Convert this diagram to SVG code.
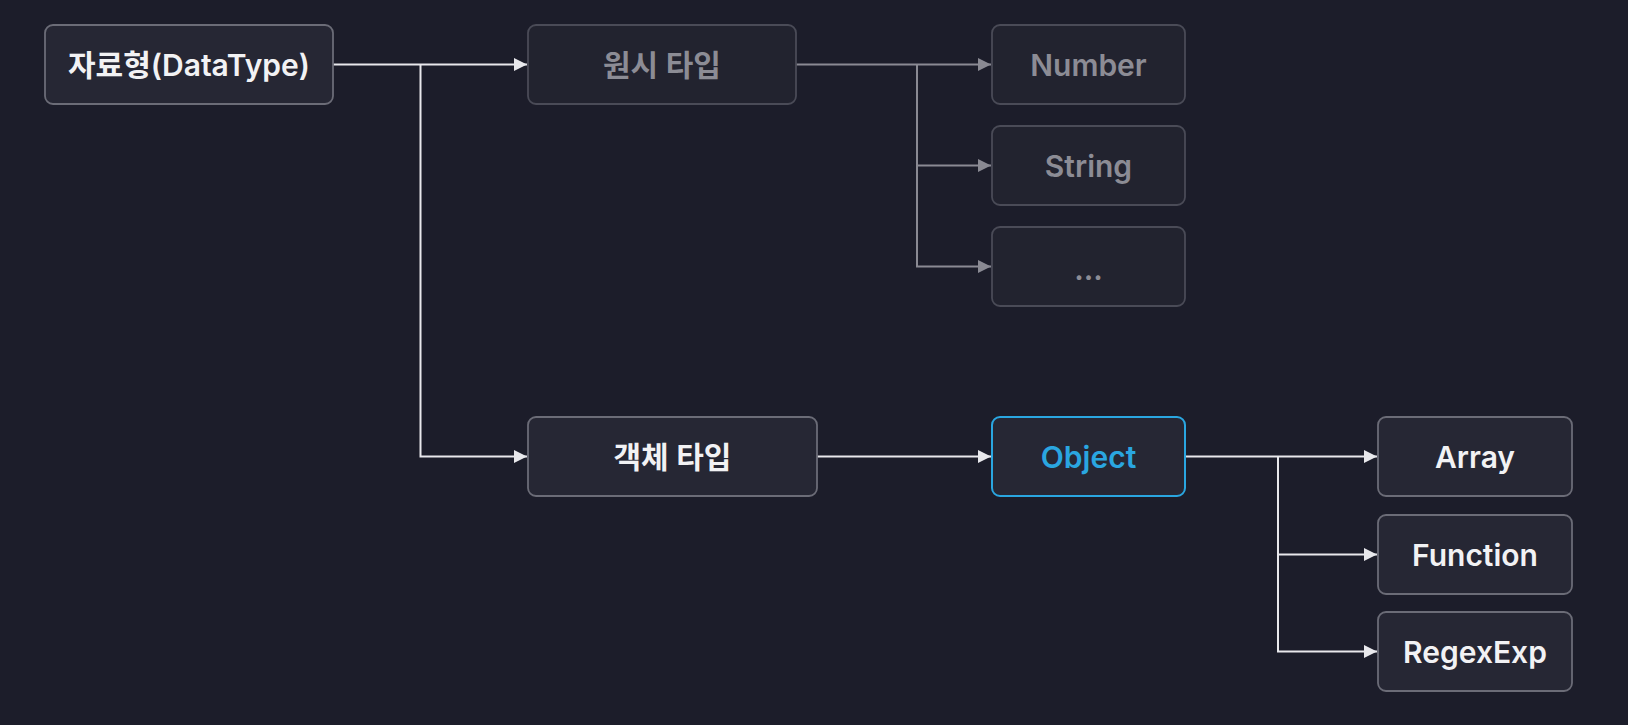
<svg xmlns="http://www.w3.org/2000/svg" width="1628" height="725" viewBox="0 0 1628 725">
<style>
.bg{fill:#1c1d2a}
.node rect{fill:#262734;stroke:#6b6c77;stroke-width:1.8}
.node.dim rect{fill:#22232f;stroke:#4a4b57}
.node.hl rect{stroke:#2aa6e0;stroke-width:2}
.node text{font-family:Inter,"Noto Sans CJK KR",sans-serif;font-size:30px;font-weight:600;fill:#f2f2f4;text-anchor:middle;dominant-baseline:central}
.node.dim text{fill:#8c8c95}
.node.hl text{fill:#2aa6e0}
.c{fill:none;stroke:#e8e8ec;stroke-width:2}
.c.dim{stroke:#8a8a93}
</style>
<defs>
<marker id="a" viewBox="0 0 10 10" refX="10" refY="5" markerWidth="13" markerHeight="13" markerUnits="userSpaceOnUse" orient="auto"><path d="M0,0L10,5L0,10z" fill="#e8e8ec"/></marker>
<marker id="ad" viewBox="0 0 10 10" refX="10" refY="5" markerWidth="13" markerHeight="13" markerUnits="userSpaceOnUse" orient="auto"><path d="M0,0L10,5L0,10z" fill="#8a8a93"/></marker>
</defs>
<rect class="bg" width="1628" height="725"/>
<g id="connectors">
<path class="c" d="M333,64.5H527" marker-end="url(#a)"/>
<path class="c" d="M420.5,64.5V456.5H527" marker-end="url(#a)"/>
<path class="c dim" d="M796,64.5H991" marker-end="url(#ad)"/>
<path class="c dim" d="M917,64.5V165.5H991" marker-end="url(#ad)"/>
<path class="c dim" d="M917,165.5V266.5H991" marker-end="url(#ad)"/>
<path class="c" d="M817,456.5H991" marker-end="url(#a)"/>
<path class="c" d="M1185,456.5H1377" marker-end="url(#a)"/>
<path class="c" d="M1278,456.5V554.5H1377" marker-end="url(#a)"/>
<path class="c" d="M1278,554.5V651.5H1377" marker-end="url(#a)"/>
</g>
<g id="n-datatype" class="node"><rect x="45" y="25" width="288" height="79" rx="8"/><text x="189" y="64.5">자료형(DataType)</text></g>
<g id="n-primitive" class="node dim"><rect x="528" y="25" width="268" height="79" rx="8"/><text x="662" y="64.5">원시 타입</text></g>
<g id="n-number" class="node dim"><rect x="992" y="25" width="193" height="79" rx="8"/><text x="1088.5" y="64.5">Number</text></g>
<g id="n-string" class="node dim"><rect x="992" y="126" width="193" height="79" rx="8"/><text x="1088.5" y="165.5">String</text></g>
<g id="n-etc" class="node dim"><rect x="992" y="227" width="193" height="79" rx="8"/><text x="1088.5" y="269">...</text></g>
<g id="n-objtype" class="node"><rect x="528" y="417" width="289" height="79" rx="8"/><text x="672.5" y="456.5">객체 타입</text></g>
<g id="n-object" class="node hl"><rect x="992" y="417" width="193" height="79" rx="8"/><text x="1088.5" y="456.5">Object</text></g>
<g id="n-array" class="node"><rect x="1378" y="417" width="194" height="79" rx="8"/><text x="1475" y="456.5">Array</text></g>
<g id="n-function" class="node"><rect x="1378" y="515" width="194" height="79" rx="8"/><text x="1475" y="554.5">Function</text></g>
<g id="n-regex" class="node"><rect x="1378" y="612" width="194" height="79" rx="8"/><text x="1475" y="651.5">RegexExp</text></g>
</svg>
